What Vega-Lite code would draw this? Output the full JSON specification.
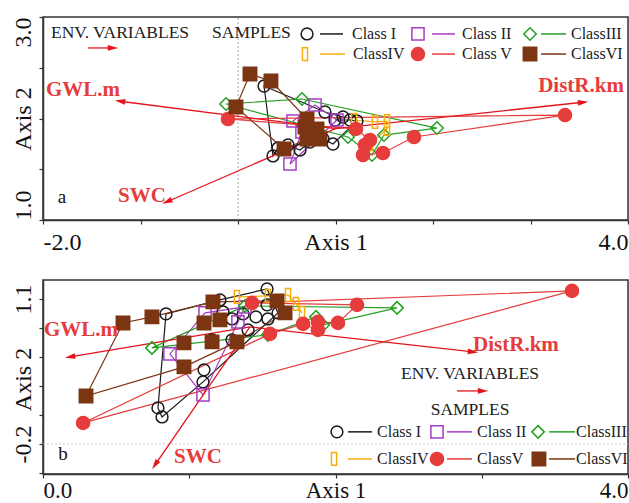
{
"$schema":"https://vega.github.io/schema/vega-lite/v6.json",
"padding":{"left":10,"top":15,"right":1,"bottom":0},
"bounds":"flush",
"spacing":60,
"resolve":{"scale":{"x":"independent","y":"independent"}},
"datasets":{
"tp":[
{"cls":"I","x":0.267,"y":2.320,"seq":1},{"cls":"I","x":0.892,"y":2.064,"seq":2},{"cls":"I","x":1.077,"y":2.015,"seq":3},{"cls":"I","x":0.995,"y":1.985,"seq":4},{"cls":"I","x":1.149,"y":1.985,"seq":5},{"cls":"I","x":1.220,"y":1.975,"seq":6},{"cls":"I","x":0.974,"y":1.749,"seq":7},{"cls":"I","x":0.872,"y":1.798,"seq":8},{"cls":"I","x":0.738,"y":1.768,"seq":9},{"cls":"I","x":0.636,"y":1.690,"seq":10},{"cls":"I","x":0.513,"y":1.739,"seq":11},{"cls":"I","x":0.410,"y":1.709,"seq":12},{"cls":"I","x":0.359,"y":1.631,"seq":13},
{"cls":"II","x":0.533,"y":1.552,"seq":1},{"cls":"II","x":0.656,"y":1.867,"seq":2},{"cls":"II","x":0.564,"y":1.975,"seq":3},{"cls":"II","x":0.790,"y":2.133,"seq":4},{"cls":"II","x":1.015,"y":1.985,"seq":5},
{"cls":"III","x":-0.123,"y":2.143,"seq":1},{"cls":"III","x":0.656,"y":2.192,"seq":2},{"cls":"III","x":2.041,"y":1.906,"seq":3},{"cls":"III","x":1.497,"y":1.837,"seq":4},{"cls":"III","x":1.374,"y":1.640,"seq":5},{"cls":"III","x":1.128,"y":1.818,"seq":6},
{"cls":"IV","x":1.190,"y":1.985,"seq":1},{"cls":"IV","x":1.405,"y":1.966,"seq":2},{"cls":"IV","x":1.528,"y":1.975,"seq":3},{"cls":"IV","x":1.528,"y":1.897,"seq":4},{"cls":"IV","x":1.354,"y":1.749,"seq":5},
{"cls":"V","x":-0.103,"y":1.995,"seq":1},{"cls":"V","x":3.354,"y":2.034,"seq":2},{"cls":"V","x":1.805,"y":1.818,"seq":3},{"cls":"V","x":1.487,"y":1.660,"seq":4},{"cls":"V","x":1.282,"y":1.640,"seq":5},{"cls":"V","x":1.302,"y":1.739,"seq":6},{"cls":"V","x":1.354,"y":1.788,"seq":7},{"cls":"V","x":1.210,"y":1.897,"seq":8},
{"cls":"VI","x":0.123,"y":2.438,"seq":1},{"cls":"VI","x":0.338,"y":2.369,"seq":2},{"cls":"VI","x":0.708,"y":1.995,"seq":3},{"cls":"VI","x":0.687,"y":1.916,"seq":4},{"cls":"VI","x":0.810,"y":1.897,"seq":5},{"cls":"VI","x":0.841,"y":1.798,"seq":6},{"cls":"VI","x":0.708,"y":1.798,"seq":7},{"cls":"VI","x":0.472,"y":1.700,"seq":8},{"cls":"VI","x":-0.021,"y":2.113,"seq":9}
],
"bp":[
{"cls":"I","x":0.841,"y":0.966,"seq":1},{"cls":"I","x":0.786,"y":0.123,"seq":2},{"cls":"I","x":0.814,"y":0.042,"seq":3},{"cls":"I","x":1.094,"y":0.356,"seq":4},{"cls":"I","x":1.607,"y":0.975,"seq":5},{"cls":"I","x":1.532,"y":1.190,"seq":6},{"cls":"I","x":1.210,"y":1.091,"seq":7},
{"cls":"I","x":1.231,"y":0.984},{"cls":"I","x":1.292,"y":0.921},{"cls":"I","x":1.156,"y":0.733},{"cls":"I","x":1.292,"y":0.733},{"cls":"I","x":1.368,"y":0.966},{"cls":"I","x":1.402,"y":0.822},{"cls":"I","x":1.456,"y":0.939},{"cls":"I","x":1.532,"y":1.047},{"cls":"I","x":1.538,"y":0.921},{"cls":"I","x":1.101,"y":0.464},
{"cls":"II","x":0.868,"y":0.607,"seq":1},{"cls":"II","x":1.094,"y":0.239,"seq":2},{"cls":"II","x":1.333,"y":0.894,"seq":3},{"cls":"II","x":1.381,"y":1.029,"seq":4},{"cls":"II","x":1.108,"y":0.975,"seq":5},
{"cls":"III","x":0.745,"y":0.661,"seq":1},{"cls":"III","x":1.538,"y":0.778,"seq":2},{"cls":"III","x":1.867,"y":0.939,"seq":3},{"cls":"III","x":1.915,"y":0.867,"seq":4},{"cls":"III","x":2.421,"y":1.020,"seq":5},{"cls":"III","x":1.381,"y":1.038,"seq":6},
{"cls":"IV","x":1.326,"y":1.118,"seq":1},{"cls":"IV","x":1.538,"y":1.127,"seq":2},{"cls":"IV","x":1.675,"y":1.136,"seq":3},{"cls":"IV","x":1.730,"y":1.056,"seq":4},{"cls":"IV","x":1.771,"y":0.975,"seq":5},
{"cls":"V","x":0.274,"y":-0.012,"seq":1},{"cls":"V","x":3.617,"y":1.172,"seq":2},{"cls":"V","x":1.429,"y":1.065,"seq":3},{"cls":"V","x":2.147,"y":1.047,"seq":4},{"cls":"V","x":2.017,"y":0.885,"seq":5},{"cls":"V","x":1.880,"y":0.894,"seq":6},{"cls":"V","x":1.880,"y":0.822,"seq":7},{"cls":"V","x":1.778,"y":0.876,"seq":8},{"cls":"V","x":1.552,"y":0.787,"seq":9},
{"cls":"VI","x":0.294,"y":0.230,"seq":1},{"cls":"VI","x":0.547,"y":0.885,"seq":2},{"cls":"VI","x":0.745,"y":0.939,"seq":3},{"cls":"VI","x":1.162,"y":1.074,"seq":4},{"cls":"VI","x":1.600,"y":1.083,"seq":5},{"cls":"VI","x":1.655,"y":0.975,"seq":6},{"cls":"VI","x":1.326,"y":0.715,"seq":7},{"cls":"VI","x":0.964,"y":0.491,"seq":8},
{"cls":"VI","x":0.964,"y":0.706},{"cls":"VI","x":1.101,"y":0.885},{"cls":"VI","x":1.210,"y":0.912},{"cls":"VI","x":1.156,"y":0.715}
],
"ta":[
{"t":"GWL.m","x":-1.21,"y":2.17,"x0":1.0,"y0":1.9,"heading":187},
{"t":"DistR.km","x":3.54,"y":2.16,"x0":1.0,"y0":1.9,"heading":354},
{"t":"SWC","x":-0.728,"y":1.18,"x0":1.0,"y0":1.9,"heading":157},
{"t":"key","x":-1.282,"y":2.695,"x0":-1.538,"y0":2.695,"heading":0}
],
"ba":[
{"t":"GWL.m","x":0.185,"y":0.580,"x0":1.415,"y0":0.849,"heading":170},
{"t":"DistR.km","x":2.940,"y":0.625,"x0":1.415,"y0":0.849,"heading":6},
{"t":"SWC","x":0.766,"y":-0.388,"x0":1.415,"y0":0.849,"heading":124},
{"t":"key","x":3.009,"y":0.275,"x0":2.831,"y0":0.275,"heading":0}
],
"tl":[{"t":"GWL.m","x":-1.590,"y":2.281},{"t":"DistR.km","x":3.518,"y":2.320},{"t":"SWC","x":-0.985,"y":1.236}],
"bl":[{"t":"GWL.m","x":0.260,"y":0.822},{"t":"DistR.km","x":3.234,"y":0.688},{"t":"SWC","x":1.060,"y":-0.317}],
"th":[{"t":"ENV. VARIABLES","x":-1.210,"y":2.842},{"t":"SAMPLES","x":0.138,"y":2.842}],
"bh":[{"t":"ENV. VARIABLES","x":2.920,"y":0.428},{"t":"SAMPLES","x":2.920,"y":0.105}],
"tsym":[{"cls":"I","x":0.708,"y":2.833},{"cls":"II","x":1.846,"y":2.833},{"cls":"III","x":2.995,"y":2.833},{"cls":"IV","x":0.687,"y":2.635},{"cls":"V","x":1.846,"y":2.635},{"cls":"VI","x":2.995,"y":2.635}],
"tln":[{"cls":"I","x":0.841,"x2":1.077,"y":2.833},{"cls":"II","x":1.990,"x2":2.226,"y":2.833},{"cls":"III","x":3.108,"x2":3.364,"y":2.833},{"cls":"IV","x":0.841,"x2":1.097,"y":2.635},{"cls":"V","x":1.990,"x2":2.226,"y":2.635},{"cls":"VI","x":3.108,"x2":3.364,"y":2.635}],
"ttx":[{"t":"Class I","x":1.169,"y":2.833},{"t":"Class II","x":2.297,"y":2.833},{"t":"ClassIII","x":3.415,"y":2.833},{"t":"ClassIV","x":1.179,"y":2.635},{"t":"Class V","x":2.297,"y":2.635},{"t":"ClassVI","x":3.415,"y":2.635}],
"bsym":[{"cls":"I","x":2.010,"y":-0.092},{"cls":"II","x":2.694,"y":-0.092},{"cls":"III","x":3.385,"y":-0.092},{"cls":"IV","x":1.990,"y":-0.335},{"cls":"V","x":2.694,"y":-0.335},{"cls":"VI","x":3.391,"y":-0.335}],
"bln":[{"cls":"I","x":2.085,"x2":2.250,"y":-0.092},{"cls":"II","x":2.762,"x2":2.933,"y":-0.092},{"cls":"III","x":3.460,"x2":3.638,"y":-0.092},{"cls":"IV","x":2.085,"x2":2.250,"y":-0.335},{"cls":"V","x":2.762,"x2":2.933,"y":-0.335},{"cls":"VI","x":3.460,"x2":3.638,"y":-0.335}],
"btx":[{"t":"Class I","x":2.284,"y":-0.092},{"t":"Class II","x":2.968,"y":-0.092},{"t":"ClassIII","x":3.645,"y":-0.092},{"t":"ClassIV","x":2.284,"y":-0.335},{"t":"ClassV","x":2.968,"y":-0.335},{"t":"ClassVI","x":3.645,"y":-0.335}]
},
"vconcat":[
{
"width":585,"height":203,
"encoding":{
"x":{"field":"x","type":"quantitative","scale":{"domain":[-2,4],"nice":false,"zero":false},
 "axis":{"title":null,"values":[-2,-1,0,1,2,3,4],"labelFlush":true,"labelPadding":6,
 "labelExpr":"datum.value==-2?'-2.0':datum.value==1?'Axis 1':datum.value==4?'4.0':''"}},
"y":{"field":"y","type":"quantitative","scale":{"domain":[1,3],"nice":false,"zero":false},
 "axis":{"title":null,"values":[1,1.5,2,2.5,3],"labelAngle":-90,"labelBaseline":"alphabetic","labelPadding":9,"labelFlush":false,
 "labelAlign":{"condition":[{"test":"datum.value<=1","value":"left"},{"test":"datum.value>=3","value":"right"}],"value":"center"},
 "labelExpr":"datum.value==1?'1.0':datum.value==2?'Axis 2':datum.value==3?'3.0':''"}}
},
"layer":[
{"data":{"values":[{"x":0,"y":1,"y2":3}]},"mark":{"type":"rule","color":"#999","strokeDash":[2,2],"strokeWidth":0.8},"encoding":{"y2":{"field":"y2"}}},
{"data":{"name":"tp"},"transform":[{"filter":"isValid(datum.seq) && datum.cls!='IV'"}],"mark":{"type":"line","interpolate":"linear-closed","strokeWidth":1.2},
 "encoding":{"order":{"field":"seq","type":"quantitative"},"stroke":{"field":"cls","type":"nominal","scale":{"domain":["I","II","III","IV","V","VI"],"range":["#1a1a1a","#a63cc6","#25a025","#f5ad10","#e63c3c","#7c3512"]},"legend":null}}},
{"data":{"name":"tp"},"transform":[{"filter":"datum.cls=='IV'"}],"mark":{"type":"line","interpolate":"linear","strokeWidth":1.2},
 "encoding":{"order":{"field":"seq","type":"quantitative"},"stroke":{"field":"cls","type":"nominal","scale":{"domain":["I","II","III","IV","V","VI"],"range":["#1a1a1a","#a63cc6","#25a025","#f5ad10","#e63c3c","#7c3512"]},"legend":null}}},
{"data":{"name":"ta"},"mark":{"type":"rule","color":"#e3141c","strokeWidth":1.3},"encoding":{"x2":{"field":"x0"},"y2":{"field":"y0"}}},
{"data":{"name":"ta"},"mark":{"type":"point","shape":"M 1 0 L -1 -0.55 L -1 0.55 Z","filled":true,"color":"#e3141c","size":110,"opacity":1},"encoding":{"angle":{"field":"heading","type":"quantitative","scale":null}}},
{"data":{"name":"tp"},"mark":{"type":"point","filled":false,"strokeWidth":1.5,"opacity":1},
 "encoding":{
 "shape":{"field":"cls","type":"nominal","scale":{"domain":["I","II","III","IV","V","VI"],"range":["circle","square","diamond","M -0.4 -1 L 0.4 -1 L 0.4 1 L -0.4 1 Z","circle","square"]},"legend":null},
 "size":{"field":"cls","type":"nominal","scale":{"domain":["I","II","III","IV","V","VI"],"range":[140,180,140,200,160,200]},"legend":null},
 "stroke":{"field":"cls","type":"nominal","scale":{"domain":["I","II","III","IV","V","VI"],"range":["#1a1a1a","#a63cc6","#25a025","#f5ad10","#e63c3c","#7c3512"]},"legend":null},
 "fill":{"field":"cls","type":"nominal","scale":{"domain":["I","II","III","IV","V","VI"],"range":["transparent","transparent","transparent","transparent","#e63c3c","#7c3512"]},"legend":null}}},
{"data":{"name":"tl"},"mark":{"type":"text","font":"Liberation Serif","fontWeight":"bold","fontSize":21,"color":"#e63c3c","align":"center","baseline":"middle"},"encoding":{"text":{"field":"t"}}},
{"data":{"name":"th"},"mark":{"type":"text","font":"Liberation Serif","fontSize":17.5,"color":"#222","align":"center","baseline":"middle"},"encoding":{"text":{"field":"t"}}},
{"data":{"values":[{"t":"a","x":-1.805,"y":1.227}]},"mark":{"type":"text","font":"Liberation Serif","fontSize":19,"color":"#111","align":"center","baseline":"middle"},"encoding":{"text":{"field":"t"}}},
{"data":{"name":"tln"},"mark":{"type":"rule","strokeWidth":1.5},"encoding":{"x2":{"field":"x2"},"stroke":{"field":"cls","type":"nominal","scale":{"domain":["I","II","III","IV","V","VI"],"range":["#1a1a1a","#a63cc6","#25a025","#f5ad10","#e63c3c","#7c3512"]},"legend":null}}},
{"data":{"name":"tsym"},"mark":{"type":"point","filled":false,"strokeWidth":1.5,"opacity":1},
 "encoding":{
 "shape":{"field":"cls","type":"nominal","scale":{"domain":["I","II","III","IV","V","VI"],"range":["circle","square","diamond","M -0.4 -1 L 0.4 -1 L 0.4 1 L -0.4 1 Z","circle","square"]},"legend":null},
 "size":{"field":"cls","type":"nominal","scale":{"domain":["I","II","III","IV","V","VI"],"range":[140,180,140,200,160,200]},"legend":null},
 "stroke":{"field":"cls","type":"nominal","scale":{"domain":["I","II","III","IV","V","VI"],"range":["#1a1a1a","#a63cc6","#25a025","#f5ad10","#e63c3c","#7c3512"]},"legend":null},
 "fill":{"field":"cls","type":"nominal","scale":{"domain":["I","II","III","IV","V","VI"],"range":["transparent","transparent","transparent","transparent","#e63c3c","#7c3512"]},"legend":null}}},
{"data":{"name":"ttx"},"mark":{"type":"text","font":"Liberation Serif","fontSize":16,"color":"#222","align":"left","baseline":"middle"},"encoding":{"text":{"field":"t"}}}
]
},
{
"width":585,"height":194,
"encoding":{
"x":{"field":"x","type":"quantitative","scale":{"domain":[0,4],"nice":false,"zero":false},
 "axis":{"title":null,"values":[0,1,2,3,4],"labelFlush":true,"labelPadding":1,"labelFontSize":23,
 "labelExpr":"datum.value==0?'0.0':datum.value==2?'Axis 1':datum.value==4?'4.0':''"}},
"y":{"field":"y","type":"quantitative","scale":{"domain":[-0.47,1.27],"nice":false,"zero":false},
 "axis":{"values":[-0.46,-0.2,0.06,0.32,0.58,0.84,1.1],"labelAngle":-90,"labelBaseline":"alphabetic","labelAlign":"center","labelPadding":9,"labelFlush":false,
 "labelExpr":"abs(datum.value-1.1)<0.001?'1.1':abs(datum.value+0.2)<0.001?'-0.2':''",
 "title":"Axis 2","titleX":-13,"titleY":99,"titleAngle":-90,"titleAlign":"center","titleBaseline":"alphabetic"}}
},
"layer":[
{"data":{"values":[{"x":0,"x2":4,"y":-0.2}]},"mark":{"type":"rule","color":"#bbb","strokeDash":[2,2],"strokeWidth":0.8},"encoding":{"x2":{"field":"x2"}}},
{"data":{"name":"bp"},"transform":[{"filter":"isValid(datum.seq) && datum.cls!='IV'"}],"mark":{"type":"line","interpolate":"linear-closed","strokeWidth":1.2},
 "encoding":{"order":{"field":"seq","type":"quantitative"},"stroke":{"field":"cls","type":"nominal","scale":{"domain":["I","II","III","IV","V","VI"],"range":["#1a1a1a","#a63cc6","#25a025","#f5ad10","#e63c3c","#7c3512"]},"legend":null}}},
{"data":{"name":"bp"},"transform":[{"filter":"datum.cls=='IV'"}],"mark":{"type":"line","interpolate":"linear","strokeWidth":1.2},
 "encoding":{"order":{"field":"seq","type":"quantitative"},"stroke":{"field":"cls","type":"nominal","scale":{"domain":["I","II","III","IV","V","VI"],"range":["#1a1a1a","#a63cc6","#25a025","#f5ad10","#e63c3c","#7c3512"]},"legend":null}}},
{"data":{"name":"ba"},"mark":{"type":"rule","color":"#e3141c","strokeWidth":1.3},"encoding":{"x2":{"field":"x0"},"y2":{"field":"y0"}}},
{"data":{"name":"ba"},"mark":{"type":"point","shape":"M 1 0 L -1 -0.55 L -1 0.55 Z","filled":true,"color":"#e3141c","size":110,"opacity":1},"encoding":{"angle":{"field":"heading","type":"quantitative","scale":null}}},
{"data":{"name":"bp"},"mark":{"type":"point","filled":false,"strokeWidth":1.5,"opacity":1},
 "encoding":{
 "shape":{"field":"cls","type":"nominal","scale":{"domain":["I","II","III","IV","V","VI"],"range":["circle","square","diamond","M -0.4 -1 L 0.4 -1 L 0.4 1 L -0.4 1 Z","circle","square"]},"legend":null},
 "size":{"field":"cls","type":"nominal","scale":{"domain":["I","II","III","IV","V","VI"],"range":[140,180,140,200,160,200]},"legend":null},
 "stroke":{"field":"cls","type":"nominal","scale":{"domain":["I","II","III","IV","V","VI"],"range":["#1a1a1a","#a63cc6","#25a025","#f5ad10","#e63c3c","#7c3512"]},"legend":null},
 "fill":{"field":"cls","type":"nominal","scale":{"domain":["I","II","III","IV","V","VI"],"range":["transparent","transparent","transparent","transparent","#e63c3c","#7c3512"]},"legend":null}}},
{"data":{"name":"bl"},"mark":{"type":"text","font":"Liberation Serif","fontWeight":"bold","fontSize":21,"color":"#e63c3c","align":"center","baseline":"middle"},"encoding":{"text":{"field":"t"}}},
{"data":{"name":"bh"},"mark":{"type":"text","font":"Liberation Serif","fontSize":17.5,"color":"#222","align":"center","baseline":"middle"},"encoding":{"text":{"field":"t"}}},
{"data":{"values":[{"t":"b","x":0.137,"y":-0.290}]},"mark":{"type":"text","font":"Liberation Serif","fontSize":19,"color":"#111","align":"center","baseline":"middle"},"encoding":{"text":{"field":"t"}}},
{"data":{"name":"bln"},"mark":{"type":"rule","strokeWidth":1.5},"encoding":{"x2":{"field":"x2"},"stroke":{"field":"cls","type":"nominal","scale":{"domain":["I","II","III","IV","V","VI"],"range":["#1a1a1a","#a63cc6","#25a025","#f5ad10","#e63c3c","#7c3512"]},"legend":null}}},
{"data":{"name":"bsym"},"mark":{"type":"point","filled":false,"strokeWidth":1.5,"opacity":1},
 "encoding":{
 "shape":{"field":"cls","type":"nominal","scale":{"domain":["I","II","III","IV","V","VI"],"range":["circle","square","diamond","M -0.4 -1 L 0.4 -1 L 0.4 1 L -0.4 1 Z","circle","square"]},"legend":null},
 "size":{"field":"cls","type":"nominal","scale":{"domain":["I","II","III","IV","V","VI"],"range":[140,180,140,200,160,200]},"legend":null},
 "stroke":{"field":"cls","type":"nominal","scale":{"domain":["I","II","III","IV","V","VI"],"range":["#1a1a1a","#a63cc6","#25a025","#f5ad10","#e63c3c","#7c3512"]},"legend":null},
 "fill":{"field":"cls","type":"nominal","scale":{"domain":["I","II","III","IV","V","VI"],"range":["transparent","transparent","transparent","transparent","#e63c3c","#7c3512"]},"legend":null}}},
{"data":{"name":"btx"},"mark":{"type":"text","font":"Liberation Serif","fontSize":16,"color":"#222","align":"left","baseline":"middle"},"encoding":{"text":{"field":"t"}}}
]
}
],
"config":{
"view":{"stroke":"#333","strokeWidth":1.5},
"axis":{"grid":false,"domainColor":"#333","domainWidth":1.5,"tickColor":"#333","tickWidth":1.2,"tickSize":4,"labelFont":"Liberation Serif","labelFontSize":24,"labelColor":"#111","labelOverlap":false,"labelBound":false,"titleFont":"Liberation Serif","titleFontSize":24,"titleFontWeight":"normal","titleColor":"#111"}
}
}
